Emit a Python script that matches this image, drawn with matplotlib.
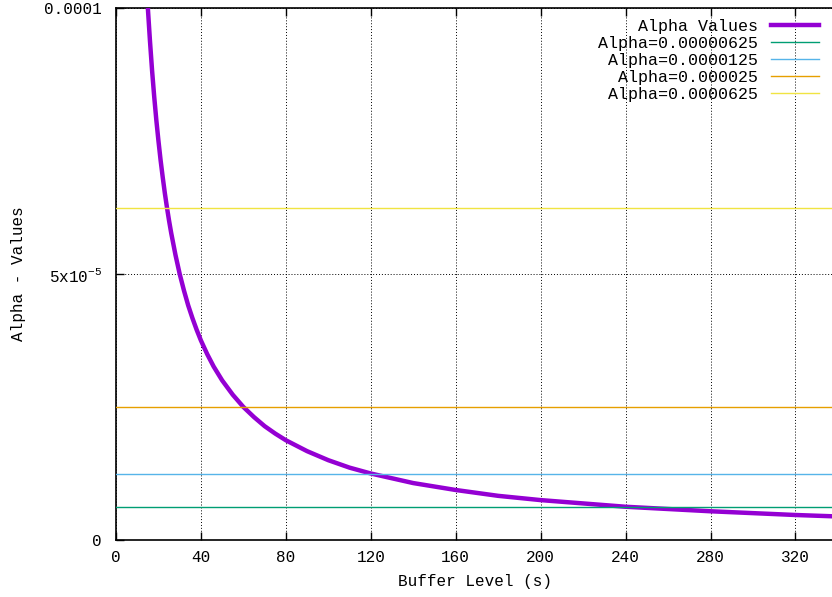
import numpy as np
import matplotlib
matplotlib.use("Agg")
import matplotlib.pyplot as plt

plt.rcParams['font.family'] = ['Liberation Mono', 'DejaVu Sans Mono']
plt.rcParams['mathtext.fontset'] = 'custom'
plt.rcParams['mathtext.rm'] = 'Liberation Mono'
plt.rcParams['mathtext.it'] = 'Liberation Mono'

# curve (buffer level in s, alpha)
buffer_s = [13, 14, 15, 16, 17, 18, 19, 20, 21, 22, 23, 24, 25, 26, 28, 30, 32,
            34, 36, 38, 40, 43, 46, 50, 55, 60, 65, 70, 75, 80, 90, 100, 110,
            120, 140, 160, 180, 200, 240, 280, 320, 338]
alpha = [11.5e-5, 10.7e-5, 10.0e-5, 9.38e-5, 8.82e-5, 8.33e-5, 7.89e-5,
         7.5e-5, 7.14e-5, 6.82e-5, 6.52e-5, 6.25e-5, 6.0e-5, 5.77e-5, 5.36e-5,
         5.0e-5, 4.69e-5, 4.41e-5, 4.17e-5, 3.95e-5, 3.75e-5, 3.49e-5,
         3.26e-5, 3.0e-5, 2.73e-5, 2.5e-5, 2.31e-5, 2.14e-5, 2.0e-5, 1.875e-5,
         1.67e-5, 1.5e-5, 1.36e-5, 1.25e-5, 1.07e-5, 0.94e-5, 0.83e-5,
         0.75e-5, 0.625e-5, 0.54e-5, 0.47e-5, 0.445e-5]

# constant reference levels
levels = [0.00000625, 0.0000125, 0.000025, 0.0000625]
level_labels = ['Alpha=0.00000625', 'Alpha=0.0000125', 'Alpha=0.000025', 'Alpha=0.0000625']
level_colors = ['#009e73', '#56b4e9', '#e69f00', '#f0e442']

xticks = [0, 40, 80, 120, 160, 200, 240, 280, 320]
yticks = [0, 5e-5, 1e-4]
yticklabels = ['0', r'5x10$^{-5}$', '0.0001']

fig = plt.figure(figsize=(8.32, 5.97), dpi=100)
ax = fig.add_axes([116 / 832, 57 / 597, 1 - 116 / 832 + 0.002, 532 / 597])

ax.plot(buffer_s, alpha, color='#9400d3', lw=3.2, label='Alpha Values',
        zorder=3, solid_joinstyle='round')
for lv, lab, col in zip(levels, level_labels, level_colors):
    ax.axhline(lv, color=col, lw=1.0, label=lab, zorder=4)

ax.set_xlim(0, 338)
ax.set_ylim(0, 1e-4)
ax.set_xticks(xticks)
ax.set_yticks(yticks)
ax.set_yticklabels(yticklabels)
ax.tick_params(direction='in', length=6, width=1, labelsize=11.5, top=True,
               right=False, pad=10)
ax.tick_params(axis='x', pad=7)
ax.grid(True, linestyle=(0, (1, 2)), color='black', lw=0.7)
ax.spines['right'].set_visible(False)
for s in ['left', 'top', 'bottom']:
    ax.spines[s].set_linewidth(1.2)

ax.set_xlabel('Buffer Level (s)', fontsize=11.5, labelpad=7)
ax.set_ylabel('Alpha - Values', fontsize=11.5)
ax.yaxis.set_label_coords(-90 / 716, 0.5)

leg = ax.legend(loc='upper right', bbox_to_anchor=(0.979, 0.979),
                frameon=False, markerfirst=False, fontsize=12,
                handlelength=2.85, handletextpad=0.8, labelspacing=0.12,
                borderpad=0, borderaxespad=0)

fig.savefig('out.png', dpi=100)
